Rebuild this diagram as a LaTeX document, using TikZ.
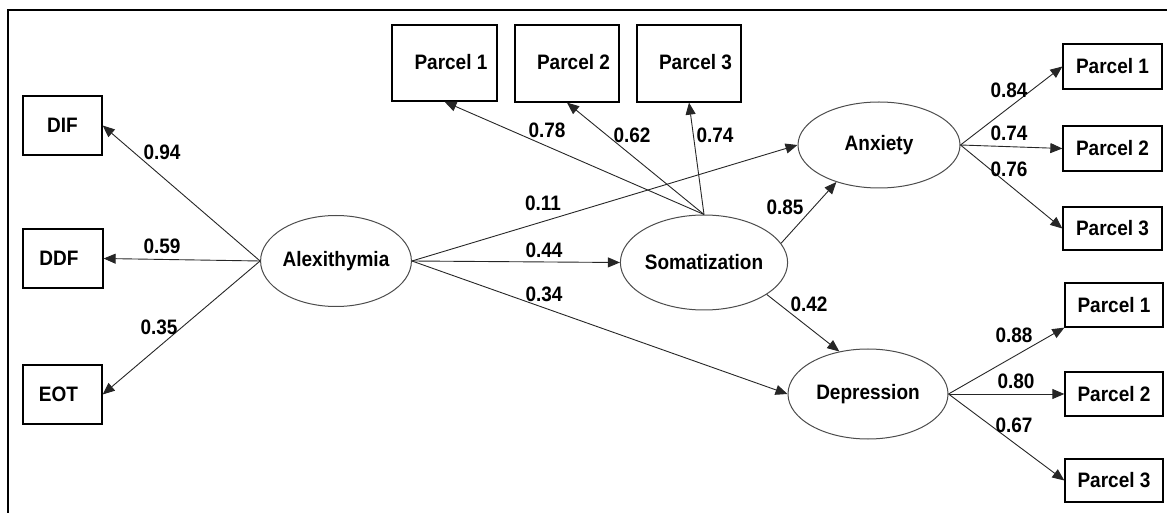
\documentclass[tikz,border=0pt]{standalone}
\usepackage{fontspec}
\setmainfont{Liberation Sans}
\usetikzlibrary{arrows.meta,shapes.geometric}

% labels are set slightly taller than wide
\newcommand\tx[1]{\scalebox{1}[1.1]{#1}}

\tikzset{
  txt/.style={font=\fontsize{19bp}{22bp}\selectfont\bfseries},
  obs/.style={txt, draw=black, line width=1.3bp, rectangle, inner sep=0pt},
  lat/.style={txt, draw=black!70, line width=1bp, ellipse, inner sep=0pt},
  path/.style={draw=black!85, line width=0.9bp, -{Triangle[length=12bp,width=10bp]}},
  coef/.style={txt, inner sep=0pt}
}

\begin{document}
\begin{tikzpicture}[x=1bp, y=-1bp]
\useasboundingbox (0,0) rectangle (1167,513);

% open frame: left and top sides only
\draw[line width=2.5bp] (8,513) -- (8,10) -- (1167,10);

% Alexithymia indicators
\node[obs, minimum width=79bp, minimum height=59bp] (dif) at (62.5,125.5) {\tx{DIF}};
\node[obs, minimum width=80bp, minimum height=59bp] (ddf) at (63,258.5) {\hspace*{-8bp}\tx{DDF}};
\node[obs, minimum width=79bp, minimum height=59bp] (eot) at (62.5,394.5) {\hspace*{-8bp}\tx{EOT}};

% latent variables
\node[lat, minimum width=145bp, minimum height=91bp] (alex) at (336,261) {\tx{Alexithymia}};
\node[lat, minimum width=146bp, minimum height=95bp] (soma) at (704,262.5) {\tx{Somatization}};
\node[lat, minimum width=162bp, minimum height=86bp] (anx) at (879,145) {\tx{Anxiety}};
\node[lat, minimum width=160bp, minimum height=90bp] (dep) at (868,394) {\tx{Depression}};

% Somatization parcels
\node[obs, minimum width=105bp, minimum height=76bp] (sp1) at (444.5,63) {\hspace*{13bp}\raisebox{3bp}{\tx{Parcel 1}}};
\node[obs, minimum width=104bp, minimum height=77bp] (sp2) at (567,63.5) {\hspace*{13bp}\raisebox{3bp}{\tx{Parcel 2}}};
\node[obs, minimum width=104bp, minimum height=77bp] (sp3) at (689,63.5) {\hspace*{13bp}\raisebox{3bp}{\tx{Parcel 3}}};

% Anxiety parcels
\node[obs, minimum width=99bp, minimum height=45bp] (ap1) at (1112.5,66.5) {\tx{Parcel 1}};
\node[obs, minimum width=99bp, minimum height=45bp] (ap2) at (1112.5,148.5) {\tx{Parcel 2}};
\node[obs, minimum width=99bp, minimum height=43bp] (ap3) at (1112.5,228.5) {\tx{Parcel 3}};

% Depression parcels
\node[obs, minimum width=98bp, minimum height=44bp] (dp1) at (1114,305) {\tx{Parcel 1}};
\node[obs, minimum width=98bp, minimum height=44bp] (dp2) at (1114,394) {\tx{Parcel 2}};
\node[obs, minimum width=98bp, minimum height=43bp] (dp3) at (1114,480.5) {\tx{Parcel 3}};

% loadings of Alexithymia
\draw[path] (alex.west) -- (dif.east);
\draw[path] (alex.west) -- (ddf.east);
\draw[path] (alex.west) -- (eot.east);

% loadings of Somatization
\draw[path] (soma.north) -- (sp1.south);
\draw[path] (soma.north) -- (sp2.south);
\draw[path] (soma.north) -- (sp3.south);

% structural paths
\draw[path] (alex.east) -- (anx.west);
\draw[path] (alex.east) -- (soma.west);
\draw[path] (alex.east) -- (dep.west);
\draw[path] (soma.14) -- (anx.221);
\draw[path] (soma.-27) -- (dep.124);

% loadings of Anxiety and Depression
\draw[path] (anx.east) -- (ap1.west);
\draw[path] (anx.east) -- (ap2.west);
\draw[path] (anx.east) -- (ap3.west);
\draw[path] (dep.east) -- (dp1.south west);
\draw[path] (dep.east) -- (dp2.west);
\draw[path] (dep.east) -- (dp3.west);

% coefficients
\node[coef] (c94) at (162,152) {\tx{0.94}};
\node[coef] (c59) at (162,246) {\tx{0.59}};
\node[coef] (c35) at (159,327) {\tx{0.35}};
\node[coef] (c78) at (547,130) {\tx{0.78}};
\node[coef] (c62) at (632,135) {\tx{0.62}};
\node[coef] (c74s) at (715,135) {\tx{0.74}};
\node[coef] (c11) at (543,203) {\tx{0.11}};
\node[coef] (c44) at (544,250) {\tx{0.44}};
\node[coef] (c34) at (544,294) {\tx{0.34}};
\node[coef] (c85) at (785,207) {\tx{0.85}};
\node[coef] (c42) at (809,304) {\tx{0.42}};
\node[coef] (c84) at (1009,90) {\tx{0.84}};
\node[coef] (c74a) at (1009,133) {\tx{0.74}};
\node[coef] (c76) at (1009,169) {\tx{0.76}};
\node[coef] (c88) at (1014,335) {\tx{0.88}};
\node[coef] (c80) at (1016,381) {\tx{0.80}};
\node[coef] (c67) at (1014,425) {\tx{0.67}};
\end{tikzpicture}
\end{document}
